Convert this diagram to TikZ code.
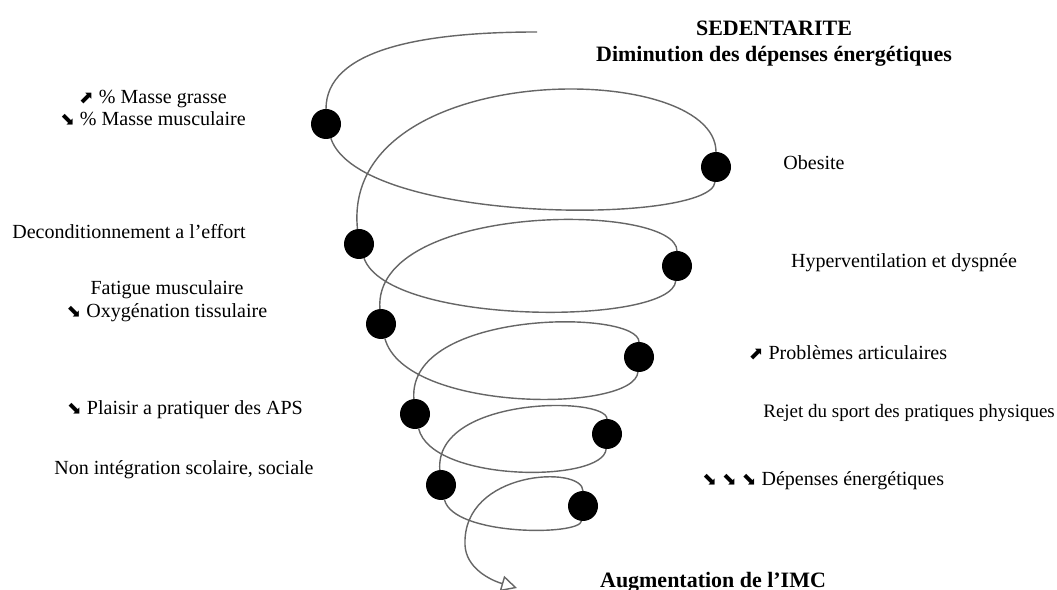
\documentclass[tikz,border=0pt]{standalone}
\usepackage{fontspec}
\setmainfont{Liberation Serif}
\newfontfamily\arrowfont{DejaVu Sans}
\usetikzlibrary{arrows.meta}
\tikzset{
dot/.style = {circle, fill, minimum size=#1,
              inner sep=0pt, outer sep=0pt},
dot/.default = 0.6cm % size of the circle diameter
}
\tikzset{
spire/.style = {draw=black!60, line width=0.8pt}
}
\tikzset{
lbl/.style = {inner sep=0pt, font=\fontsize{11.4}{13}\selectfont},
ttl/.style = {inner sep=0pt, align=center, font=\fontsize{12.5}{14.7}\selectfont\bfseries}
}
\newcommand{\hausse}{{\arrowfont\fontsize{10}{12}\selectfont ⬈}}
\newcommand{\baisse}{{\arrowfont\fontsize{10}{12}\selectfont ⬊}}

\begin{document}
\begin{tikzpicture}[x=0.02cm, y=-0.02cm]
\useasboundingbox (0,0) rectangle (1057,590);

    % points of the spiral
    \node[dot](left1) at (326,124) {};
    \node[dot](right1) at (716,167) {};
    \node[dot](left2) at (359,244) {};
    \node[dot](right2) at (677,266) {};
    \node[dot](left3) at (381,324) {};
    \node[dot](right3) at (639,357) {};
    \node[dot](left4) at (415,414) {};
    \node[dot](right4) at (607,434) {};
    \node[dot](left5) at (441,485) {};
    \node[dot](right5) at (583,506) {};
\coordinate(start) at (537,32);
\coordinate(bend) at (465,545);
\coordinate(end) at (517,588);

\draw[spire] (start) .. controls (420,32) and (326,50) .. (left1);
\draw[spire] (left1) .. controls (360,225) and (712,225) .. (right1);
\draw[spire] (right1) .. controls (716,58) and (340,58) .. (left2);
\draw[spire] (left2) .. controls (388,326) and (672,326) .. (right2);
\draw[spire] (right2) .. controls (677,202) and (372,202) .. (left3);
\draw[spire] (left3) .. controls (405,413) and (635,413) .. (right3);
\draw[spire] (right3) .. controls (639,309) and (407,309) .. (left4);
\draw[spire] (left4) .. controls (432,483) and (604,483) .. (right4);
\draw[spire] (right4) .. controls (607,396) and (434,396) .. (left5);
\draw[spire] (left5) .. controls (453,536) and (580,536) .. (right5);
\draw[spire, -{Triangle[open, length=9pt, width=9pt]}] (right5) .. controls (583,465) and (462,470) .. (bend)
    .. controls (466,568) and (490,580) .. (end);

    % texts
    \node[ttl] (titre) at (774,44) {SEDENTARITE\\ Diminution des dépenses énergétiques};
    \node[lbl, align=center] (masse) at (153,108) {\hausse{} \% Masse grasse\\ \baisse{} \% Masse musculaire};
    \node[lbl] (obesite) at (814,163) {Obesite};
    \node[lbl, anchor=west] (decond) at (12,232) {Deconditionnement a l’effort};
    \node[lbl] (hyper) at (904,263) {Hyperventilation et dyspnée};
    \node[lbl, align=center] (fatigue) at (167,301) {Fatigue musculaire\\ \baisse{} Oxygénation tissulaire};
    \node[lbl] (articul) at (848,353) {\hausse{} Problèmes articulaires};
    \node[lbl] (plaisir) at (185,410) {\baisse{} Plaisir a pratiquer des APS};
    \node[lbl, anchor=west, font=\fontsize{10.8}{13}\selectfont] (rejet) at (763,413) {Rejet du sport des pratiques physiques};
    \node[lbl] (nonint) at (184,470) {Non intégration scolaire, sociale};
    \node[lbl, anchor=west] (depense) at (702,481) {\baisse{} \baisse{} \baisse{} Dépenses énergétiques};
    \node[ttl] (imc) at (713,582) {Augmentation de l’IMC};
\end{tikzpicture}
\end{document}
